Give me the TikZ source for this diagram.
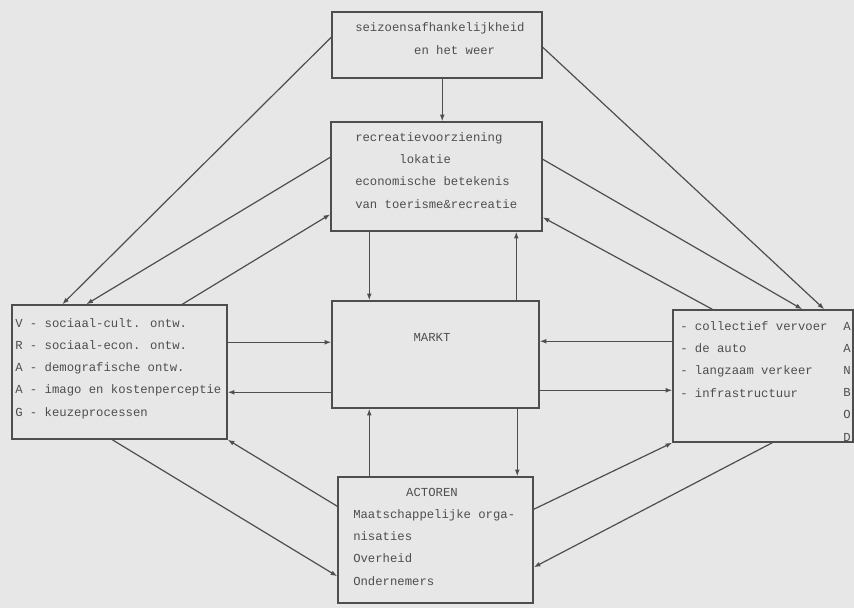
\documentclass[tikz,border=0pt]{standalone}
\usepackage{fontspec}
\newfontfamily\typ{Liberation Mono}
\usepackage{tikz}
\usetikzlibrary{arrows.meta,calc,fit}
\usepackage{xcolor}
\definecolor{paper}{RGB}{231,231,231}
\definecolor{ink}{RGB}{78,78,78}

\begin{document}
\begin{tikzpicture}[x=0.75pt,y=-0.75pt,>={Latex[length=5pt,width=3.6pt]},
  box/.style={draw=ink,line width=1.1pt,inner sep=0pt},
  txt/.style={text=ink,inner sep=0pt,anchor=base west,align=left,
    font=\typ\fontsize{9.2}{16.6}\selectfont},
  arr/.style={->,draw=ink,line width=0.9pt}]
  \fill[paper] (0,0) rectangle (854,608);
  \useasboundingbox (0,0) rectangle (854,608);

  % boxes
  \node (seizoen) [box,fit={(332,12) (542,78)}] {};
  \node (voorz)   [box,fit={(331,122) (542,231)}] {};
  \node (markt)   [box,fit={(332,301) (539,408)}] {};
  \node (actoren) [box,fit={(338,477) (533,603)}] {};
  \node (vraag)   [box,fit={(12,305) (227,439)}] {};
  \node (aanbod)  [box,fit={(673,310) (853,442)}] {};

  % texts (base = last line)
  \node (tseizoen) [txt] at (355,54) {seizoensafhankelijkheid\\\hspace*{4.8em}en het weer};
  \node (tvoorz) [txt] at (355,208) {recreatievoorziening\\\hspace*{3.6em}lokatie\\economische betekenis\\van toerisme\&recreatie};
  \node (tmarkt) [txt,anchor=base] at (432,341) {MARKT};
  \node (tvraag) [txt] at (15,416) {V - sociaal-cult. ontw.\\R - sociaal-econ. ontw.\\A - demografische ontw.\\A - imago en kostenperceptie\\G - keuzeprocessen};
  \node (taanbod) [txt] at (680,397) {- collectief vervoer\\- de auto\\- langzaam verkeer\\- infrastructuur};
  \node (tletters) [txt] at (843,441) {A\\A\\N\\B\\O\\D};
  \node (tactoren) [txt,anchor=base] at (432,496) {ACTOREN};
  \node (tleden) [txt] at (353,585) {Maatschappelijke orga-\\nisaties\\Overheid\\Ondernemers};

  % vertical and horizontal links
  \draw[arr] ($(seizoen.south west)+(111,0)$) coordinate (s1) -- (s1 |- voorz.north);
  \draw[arr] ($(voorz.south west)+(39,0)$) coordinate (r1) -- (r1 |- markt.north);
  \draw[arr] ($(markt.north west)+(185,0)$) coordinate (m1) -- (m1 |- voorz.south);
  \draw[arr] ($(vraag.north east)+(0,38)$) coordinate (v1) -- (v1 -| markt.west);
  \draw[arr] ($(markt.north west)+(0,92)$) coordinate (m2) -- (m2 -| vraag.east);
  \draw[arr] ($(aanbod.north west)+(0,32)$) coordinate (a1) -- (a1 -| markt.east);
  \draw[arr] ($(markt.north east)+(0,90)$) coordinate (m3) -- (m3 -| aanbod.west);
  \draw[arr] ($(actoren.north west)+(32,0)$) coordinate (c1) -- (c1 |- markt.south);
  \draw[arr] ($(markt.south west)+(186,0)$) coordinate (m4) -- (m4 |- actoren.north);

  % diagonal links
  \draw[arr] ($(seizoen.north west)+(0,26)$) -- ($(vraag.north west)+(51,0)$);
  \draw[arr] ($(voorz.north west)+(0,36)$) -- ($(vraag.north west)+(75,0)$);
  \draw[arr] ($(vraag.north west)+(171,0)$) -- ($(voorz.north west)+(0,93)$);
  \draw[arr] ($(seizoen.north east)+(0,36)$) -- ($(aanbod.north west)+(152,0)$);
  \draw[arr] ($(voorz.north east)+(0,38)$) -- ($(aanbod.north west)+(130,0)$);
  \draw[arr] ($(aanbod.north west)+(40,0)$) -- ($(voorz.north east)+(0,96)$);
  \draw[arr] ($(actoren.north west)+(0,30)$) -- (vraag.south east);
  \draw[arr] ($(vraag.south west)+(101,0)$) -- ($(actoren.north west)+(0,100)$);
  \draw[arr] ($(actoren.north east)+(0,33)$) -- (aanbod.south west);
  \draw[arr] ($(aanbod.south west)+(100,0)$) -- ($(actoren.north east)+(0,91)$);
\end{tikzpicture}
\end{document}
